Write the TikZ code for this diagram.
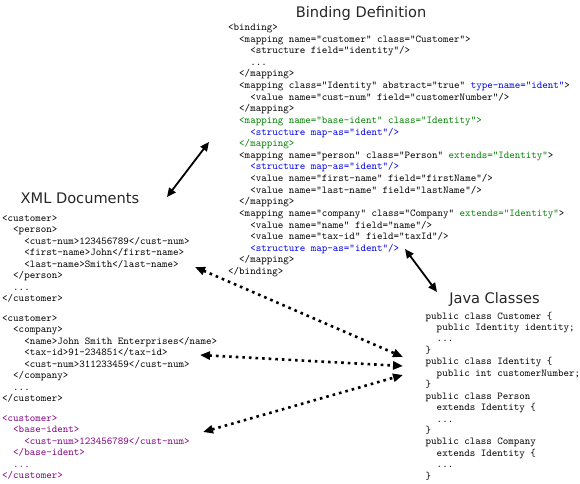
\documentclass[tikz,border=0pt]{standalone}
\usepackage{fontspec}
\newfontfamily\titlefont{DejaVu Sans}
\usetikzlibrary{arrows.meta}
\definecolor{xgreen}{RGB}{0,128,0}
\definecolor{xblue}{RGB}{0,0,230}
\definecolor{xpurple}{RGB}{128,0,128}
\tikzset{
  code/.style={font=\ttfamily\fontsize{10.5}{11.6}\selectfont, inner sep=0pt, anchor=base west},
  title/.style={font=\titlefont\fontsize{14.6}{16}\selectfont, inner sep=0pt, anchor=base, text=black!85},
  solidarrow/.style={line width=1.8pt, {Triangle[length=9pt,width=8pt]}-{Triangle[length=9pt,width=8pt]}},
  dotarrow/.style={line width=2.6pt, dash pattern=on 2.6pt off 4pt, {Triangle[length=10pt,width=8pt]}-{Triangle[length=10pt,width=8pt]}}
}
\newcommand\bl[4]{\node[code,text=#3] (bind#1) at ({228+11.03*#2},{30.5+11.62*(#1-1)}) {#4};}
\newcommand\xl[5]{\node[code,text=#4] (#1) at ({2+11.03*#3},{\xbase+11.55*(#2-1)}) {#5};}
\newcommand\jl[4]{\node[code,text=#3] (java#1) at ({425.5+11.03*#2},{319+11.45*(#1-1)}) {#4};}
\begin{document}
\begin{tikzpicture}[x=1pt,y=-1pt]
\useasboundingbox (0,0) rectangle (580,483);
% titles
\node[title] (bindTitle) at (361,17) {Binding Definition};
\node[title] (xmlTitle) at (80,203) {XML Documents};
\node[title] (javaTitle) at (494.5,303) {Java Classes};
% binding definition
\bl{1}{0}{black}{<binding>}
\bl{2}{1}{black}{<mapping name="customer" class="Customer">}
\bl{3}{2}{black}{<structure field="identity"/>}
\bl{4}{2}{black}{...}
\bl{5}{1}{black}{</mapping>}
\bl{6}{1}{black}{<mapping class="Identity" abstract="true" \textcolor{xblue}{type-name="ident"}>}
\bl{7}{2}{black}{<value name="cust-num" field="customerNumber"/>}
\bl{8}{1}{black}{</mapping>}
\bl{9}{1}{xgreen}{<mapping name="base-ident" class="Identity">}
\bl{10}{2}{xblue}{<structure map-as="ident"/>}
\bl{11}{1}{xgreen}{</mapping>}
\bl{12}{1}{black}{<mapping name="person" class="Person" \textcolor{xgreen}{extends="Identity"}>}
\bl{13}{2}{xblue}{<structure map-as="ident"/>}
\bl{14}{2}{black}{<value name="first-name" field="firstName"/>}
\bl{15}{2}{black}{<value name="last-name" field="lastName"/>}
\bl{16}{1}{black}{</mapping>}
\bl{17}{1}{black}{<mapping name="company" class="Company" \textcolor{xgreen}{extends="Identity"}>}
\bl{18}{2}{black}{<value name="name" field="name"/>}
\bl{19}{2}{black}{<value name="tax-id" field="taxId"/>}
\bl{20}{2}{xblue}{<structure map-as="ident"/>}
\bl{21}{1}{black}{</mapping>}
\bl{22}{0}{black}{</binding>}
% XML documents
\def\xbase{221}
\xl{xa1}{1}{0}{black}{<customer>}
\xl{xa2}{2}{1}{black}{<person>}
\xl{xa3}{3}{2}{black}{<cust-num>123456789</cust-num>}
\xl{xa4}{4}{2}{black}{<first-name>John</first-name>}
\xl{xa5}{5}{2}{black}{<last-name>Smith</last-name>}
\xl{xa6}{6}{1}{black}{</person>}
\xl{xa7}{7}{1}{black}{...}
\xl{xa8}{8}{0}{black}{</customer>}
\def\xbase{321}
\xl{xb1}{1}{0}{black}{<customer>}
\xl{xb2}{2}{1}{black}{<company>}
\xl{xb3}{3}{2}{black}{<name>John Smith Enterprises</name>}
\xl{xb4}{4}{2}{black}{<tax-id>91-234851</tax-id>}
\xl{xb5}{5}{2}{black}{<cust-num>311233459</cust-num>}
\xl{xb6}{6}{1}{black}{</company>}
\xl{xb7}{7}{1}{black}{...}
\xl{xb8}{8}{0}{black}{</customer>}
\def\xbase{421}
\xl{xc1}{1}{0}{xpurple}{<customer>}
\xl{xc2}{2}{1}{xpurple}{<base-ident>}
\xl{xc3}{3}{2}{xpurple}{<cust-num>123456789</cust-num>}
\xl{xc4}{4}{1}{xpurple}{</base-ident>}
\xl{xc5}{5}{1}{xpurple}{...}
\xl{xc6}{6}{0}{xpurple}{</customer>}
% Java classes
\jl{1}{0}{black}{public class Customer \{}
\jl{2}{1}{black}{public Identity identity;}
\jl{3}{1}{black}{...}
\jl{4}{0}{black}{\}}
\jl{5}{0}{black}{public class Identity \{}
\jl{6}{1}{black}{public int customerNumber;}
\jl{7}{0}{black}{\}}
\jl{8}{0}{black}{public class Person}
\jl{9}{1}{black}{extends Identity \{}
\jl{10}{1}{black}{...}
\jl{11}{0}{black}{\}}
\jl{12}{0}{black}{public class Company}
\jl{13}{1}{black}{extends Identity \{}
\jl{14}{1}{black}{...}
\jl{15}{0}{black}{\}}
% connector end points
\coordinate (xmlEnd) at (167,197);
\coordinate (bindEndA) at (209,142);
\coordinate (bindEndB) at (405,249);
\coordinate (javaEndTop) at (437,292);
\coordinate (xaEnd) at (195,267);
\coordinate (xbEnd) at (200,355);
\coordinate (xcEnd) at (203,432);
\coordinate (javaA) at (403,357);
\coordinate (javaB) at (403,366);
\coordinate (javaC) at (403,375);
% connectors
\draw[solidarrow] (xmlEnd) -- (bindEndA);
\draw[solidarrow] (bindEndB) -- (javaEndTop);
\draw[dotarrow] (xaEnd) -- (javaA);
\draw[dotarrow] (xbEnd) -- (javaB);
\draw[dotarrow] (xcEnd) -- (javaC);
\end{tikzpicture}
\end{document}
